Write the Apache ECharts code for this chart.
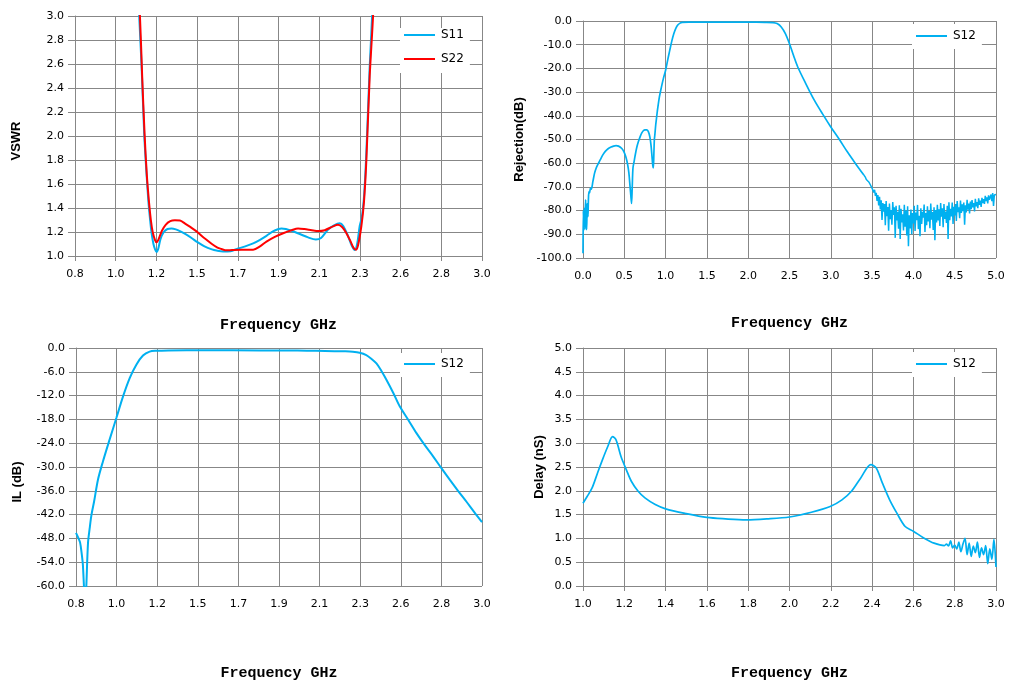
<!DOCTYPE html>
<html>
<head>
<meta charset="utf-8">
<script src="https://cdn.jsdelivr.net/npm/echarts@6/dist/echarts.min.js"></script>
<style>
  html, body { margin: 0; padding: 0; background: #fff; }
  #chart { width: 1032px; height: 691px; }
</style>
</head>
<body>
<div id="chart"></div>
<script>
// VSWR, top left
const s11Freq = [1.130, 1.147, 1.160, 1.174, 1.186, 1.196, 1.206, 1.214, 1.224, 1.234, 1.241, 1.250, 1.262, 1.280, 1.300, 1.322, 1.345, 1.370, 1.400, 1.430, 1.462, 1.500, 1.540, 1.565, 1.600, 1.640, 1.682, 1.720, 1.763, 1.800, 1.835, 1.870, 1.900, 1.916, 1.940, 1.970, 2.015, 2.060, 2.102, 2.130, 2.168, 2.200, 2.231, 2.250, 2.275, 2.295, 2.312, 2.325, 2.339, 2.350, 2.361, 2.370, 2.379, 2.393, 2.406, 2.420]
const s11Vswr = [3.60, 3.00, 2.58, 2.02, 1.70, 1.47, 1.30, 1.19, 1.10, 1.05, 1.033, 1.06, 1.14, 1.20, 1.225, 1.23, 1.222, 1.205, 1.18, 1.15, 1.115, 1.08, 1.055, 1.045, 1.037, 1.04, 1.062, 1.08, 1.105, 1.135, 1.168, 1.205, 1.225, 1.23, 1.225, 1.21, 1.183, 1.155, 1.138, 1.15, 1.22, 1.255, 1.272, 1.25, 1.17, 1.09, 1.05, 1.10, 1.25, 1.32, 1.47, 1.70, 2.02, 2.58, 3.00, 3.60]

const s22Freq = [1.130, 1.151, 1.163, 1.176, 1.188, 1.200, 1.210, 1.220, 1.232, 1.241, 1.252, 1.270, 1.290, 1.315, 1.340, 1.367, 1.395, 1.425, 1.457, 1.490, 1.511, 1.540, 1.570, 1.592, 1.619, 1.650, 1.700, 1.763, 1.800, 1.835, 1.880, 1.925, 1.970, 2.006, 2.040, 2.080, 2.114, 2.150, 2.195, 2.222, 2.245, 2.267, 2.290, 2.305, 2.318, 2.330, 2.348, 2.362, 2.375, 2.393, 2.411, 2.425]
const s22Vswr = [3.60, 3.00, 2.50, 2.02, 1.68, 1.45, 1.30, 1.20, 1.135, 1.114, 1.14, 1.21, 1.26, 1.29, 1.297, 1.295, 1.27, 1.24, 1.205, 1.16, 1.136, 1.10, 1.07, 1.058, 1.047, 1.05, 1.053, 1.053, 1.08, 1.12, 1.16, 1.19, 1.215, 1.23, 1.225, 1.215, 1.208, 1.215, 1.247, 1.26, 1.24, 1.19, 1.12, 1.07, 1.053, 1.09, 1.25, 1.45, 1.80, 2.50, 3.00, 3.60]

// rejection, top right (0 - 5 GHz)
const rejLowFreq = [0.000, 0.004, 0.010, 0.016, 0.022, 0.028, 0.032, 0.038, 0.044, 0.050, 0.056, 0.060, 0.066, 0.072, 0.080, 0.090, 0.100, 0.120, 0.140, 0.160, 0.180, 0.210, 0.240, 0.270, 0.300, 0.340, 0.370, 0.400, 0.430, 0.470, 0.500, 0.520, 0.540, 0.555, 0.570, 0.580, 0.588, 0.596, 0.605, 0.620, 0.630, 0.650, 0.670, 0.690, 0.710, 0.730, 0.750, 0.770, 0.790, 0.810, 0.825, 0.835, 0.845, 0.852, 0.858, 0.864, 0.870, 0.880, 0.890, 0.900, 0.925, 0.950, 0.975, 1.000, 1.025, 1.050, 1.075, 1.100, 1.125, 1.150, 1.175, 1.200, 1.300, 1.500, 1.800, 2.000, 2.200, 2.300, 2.350, 2.400, 2.450, 2.500, 2.550, 2.600, 2.700, 2.800, 2.900, 3.000, 3.100, 3.200, 3.300, 3.400]
const rejLowDb = [-98, -80, -86, -79, -88, -80, -75.5, -85, -88, -78, -77, -82.5, -75, -72, -72.5, -70.5, -71, -67.7, -64.2, -62, -60.5, -58.5, -56.5, -55, -54, -53.2, -52.8, -52.6, -52.8, -53.8, -55.5, -57.5, -60.5, -64, -70, -74, -77, -70, -62, -59, -57, -53.5, -51, -49, -47.3, -46.3, -45.9, -45.9, -46.6, -49, -53, -57, -61, -62, -56, -50, -48, -44, -41, -38, -32, -27.8, -24, -20.8, -16.5, -12.4, -8.5, -5.3, -3, -1.6, -0.9, -0.6, -0.5, -0.45, -0.5, -0.5, -0.55, -0.65, -1.1, -2.5, -5.3, -9.6, -14.7, -19.4, -26.6, -33.4, -39.2, -44.7, -49.8, -55.2, -60.2, -65.0]
const rejHighFreq = [
  3.40, 3.41, 3.42, 3.43, 3.44, 3.45, 3.46, 3.47, 3.48, 3.49,
  3.50, 3.51, 3.52, 3.53, 3.54, 3.55, 3.56, 3.57, 3.58, 3.59,
  3.60, 3.61, 3.62, 3.63, 3.64, 3.65, 3.66, 3.67, 3.68, 3.69,
  3.70, 3.71, 3.72, 3.73, 3.74, 3.75, 3.76, 3.77, 3.78, 3.79,
  3.80, 3.81, 3.82, 3.83, 3.84, 3.85, 3.86, 3.87, 3.88, 3.89,
  3.90, 3.91, 3.92, 3.93, 3.94, 3.95, 3.96, 3.97, 3.98, 3.99,
  4.00, 4.01, 4.02, 4.03, 4.04, 4.05, 4.06, 4.07, 4.08, 4.09,
  4.10, 4.11, 4.12, 4.13, 4.14, 4.15, 4.16, 4.17, 4.18, 4.19,
  4.20, 4.21, 4.22, 4.23, 4.24, 4.25, 4.26, 4.27, 4.28, 4.29,
  4.30, 4.31, 4.32, 4.33, 4.34, 4.35, 4.36, 4.37, 4.38, 4.39,
  4.40, 4.41, 4.42, 4.43, 4.44, 4.45, 4.46, 4.47, 4.48, 4.49,
  4.50, 4.51, 4.52, 4.53, 4.54, 4.55, 4.56, 4.57, 4.58, 4.59,
  4.60, 4.61, 4.62, 4.63, 4.64, 4.65, 4.66, 4.67, 4.68, 4.69,
  4.70, 4.71, 4.72, 4.73, 4.74, 4.75, 4.76, 4.77, 4.78, 4.79,
  4.80, 4.81, 4.82, 4.83, 4.84, 4.85, 4.86, 4.87, 4.88, 4.89,
  4.90, 4.91, 4.92, 4.93, 4.94, 4.95, 4.96, 4.97, 4.98, 4.99, 5.00]
const rejHighDb = [
  -65.0, -65.8, -66.0, -66.9, -66.5, -67.6, -67.9, -68.3, -69.2, -68.8,
  -70.6, -69.8, -72.4, -71.2, -73.8, -72.5, -75.9, -73.4, -77.8, -74.2,
  -79.5, -75.6, -84.0, -76.8, -80.5, -77.2, -86.2, -76.0, -82.4, -78.5,
  -88.5, -77.0, -83.6, -79.8, -86.0, -76.4, -81.8, -78.6, -91.5, -78.0,
  -84.2, -80.5, -87.6, -77.8, -92.0, -79.2, -85.0, -81.6, -88.4, -77.5,
  -86.8, -80.0, -90.5, -78.2, -95.0, -82.0, -87.5, -79.5, -90.0, -81.0,
  -85.4, -78.0, -88.6, -80.8, -84.0, -77.6, -87.8, -82.2, -90.8, -79.0,
  -85.6, -80.5, -83.0, -77.4, -89.0, -81.0, -86.2, -78.2, -84.6, -80.2,
  -87.4, -77.0, -83.8, -80.6, -88.2, -78.6, -92.5, -79.8, -85.0, -77.5,
  -84.2, -79.4, -86.5, -76.8, -82.6, -79.0, -87.0, -77.2, -83.5, -80.4,
  -85.2, -78.0, -92.0, -76.5, -84.0, -79.2, -82.5, -76.6, -85.6, -78.4,
  -82.0, -77.2, -84.4, -76.0, -80.6, -78.6, -83.2, -75.8, -81.0, -77.4,
  -80.2, -76.6, -86.0, -77.8, -80.8, -75.4, -79.6, -77.0, -81.2, -76.2,
  -79.4, -75.6, -78.6, -76.8, -80.4, -75.0, -78.2, -76.4, -79.0, -74.8,
  -77.6, -75.8, -78.4, -74.6, -76.8, -75.2, -77.2, -73.8, -76.0, -74.4,
  -77.0, -73.6, -75.4, -74.8, -73.2, -76.0, -72.6, -78.0, -73.4, -72.8, -73.2]

// insertion loss, bottom left
const ilFreq = [0.800, 0.812, 0.822, 0.830, 0.837, 0.843, 0.850, 0.856, 0.865, 0.874, 0.883, 0.898, 0.919, 0.946, 0.982, 1.019, 1.055, 1.091, 1.127, 1.163, 1.199, 1.235, 1.300, 1.500, 1.800, 2.000, 2.100, 2.200, 2.260, 2.300, 2.337, 2.373, 2.400, 2.428, 2.455, 2.482, 2.520, 2.554, 2.600, 2.644, 2.690, 2.735, 2.780, 2.825, 2.870, 2.915, 2.960, 3.000]
const ilDb = [-46.6, -47.8, -49.0, -51.5, -54.5, -60, -66, -60, -49.2, -45.5, -42.3, -38.7, -33.2, -28.6, -23.1, -17.6, -12.2, -7.6, -4.2, -1.9, -0.9, -0.7, -0.6, -0.55, -0.6, -0.65, -0.7, -0.8, -0.85, -0.95, -1.2, -1.8, -2.7, -3.9, -5.8, -8.0, -11.4, -14.7, -18.1, -21.4, -24.5, -27.3, -30.3, -33.2, -36.0, -38.7, -41.5, -43.9]

// group delay, bottom right
const delayFreq = [1.000, 1.020, 1.044, 1.070, 1.094, 1.120, 1.143, 1.160, 1.184, 1.210, 1.234, 1.267, 1.300, 1.350, 1.400, 1.500, 1.600, 1.690, 1.790, 1.890, 2.000, 2.106, 2.197, 2.254, 2.300, 2.345, 2.394, 2.420, 2.450, 2.485, 2.520, 2.560, 2.600, 2.650, 2.700, 2.750, 2.760, 2.770, 2.780, 2.790, 2.800, 2.810, 2.820, 2.830, 2.840, 2.850, 2.860, 2.870, 2.880, 2.890, 2.900, 2.910, 2.920, 2.930, 2.940, 2.950, 2.960, 2.970, 2.980, 2.990, 3.000]
const delayNs = [1.74, 1.88, 2.06, 2.37, 2.65, 2.93, 3.14, 3.07, 2.72, 2.44, 2.20, 1.99, 1.85, 1.71, 1.62, 1.52, 1.44, 1.41, 1.39, 1.41, 1.45, 1.55, 1.67, 1.81, 1.99, 2.27, 2.55, 2.48, 2.16, 1.81, 1.53, 1.25, 1.15, 1.01, 0.90, 0.85, 0.88, 0.84, 0.95, 0.80, 0.86, 0.78, 0.92, 0.72, 0.88, 1.00, 0.66, 0.90, 0.62, 0.84, 0.70, 0.92, 0.60, 0.80, 0.66, 0.85, 0.47, 0.78, 0.56, 0.98, 0.40]

const BLUE = '#00b0f0'
const RED = '#ff0000'
const GRID_GREY = '#878787'

const pairs = (xs, ys) => xs.map((x, i) => [x, ys[i]])

function xAxisOf(gridIndex, min, max, interval, nameGap) {
  return {
    type: 'value', gridIndex, min, max, interval,
    name: 'Frequency GHz',
    nameLocation: 'middle',
    nameGap,
    nameTextStyle: { fontFamily: 'Liberation Mono', fontWeight: 'bold', fontSize: 15, color: '#000' },
    axisLine: { lineStyle: { color: GRID_GREY } },
    axisTick: { show: true, length: 5, lineStyle: { color: GRID_GREY } },
    axisLabel: {
      margin: 13, color: '#000', fontFamily: 'DejaVu Sans', fontSize: 11,
      formatter: v => v.toFixed(1)
    },
    splitLine: { show: true, lineStyle: { color: GRID_GREY } }
  }
}

// shift moves the rotated name down the axis (px)
function yAxisOf(gridIndex, min, max, interval, name, nameGap, shift) {
  return {
    type: 'value', gridIndex, min, max, interval,
    name,
    nameLocation: 'middle',
    nameGap,
    nameTextStyle: {
      fontFamily: 'Liberation Sans', fontWeight: 'bold', fontSize: 13, color: '#000',
      padding: [0, shift * 2, 0, 0]
    },
    axisLine: { show: true, lineStyle: { color: GRID_GREY } },
    axisTick: { show: true, length: 7, lineStyle: { color: GRID_GREY } },
    axisLabel: {
      margin: 11, color: '#000', fontFamily: 'DejaVu Sans', fontSize: 11,
      formatter: v => v.toFixed(1)
    },
    splitLine: { show: true, lineStyle: { color: GRID_GREY } }
  }
}

function legendOf(names, left, top, padding) {
  return {
    data: names, left, top, orient: 'vertical',
    padding, itemGap: 10, itemWidth: 31, itemHeight: 2,
    icon: 'rect', selectedMode: false,
    backgroundColor: '#fff',
    textStyle: { fontFamily: 'DejaVu Sans', fontSize: 12, color: '#000', lineHeight: 14, padding: [0, 0, 0, 1] }
  }
}

function lineOf(name, xIdx, data, color, width, smooth) {
  return {
    name, type: 'line', xAxisIndex: xIdx, yAxisIndex: xIdx,
    data, symbol: 'none', showSymbol: false,
    smooth,
    itemStyle: { color },
    lineStyle: { color, width },
    clip: true
  }
}

const myChart = echarts.init(document.getElementById('chart'), null, { renderer: 'canvas' })

const option = {
  animation: false,
  backgroundColor: '#fff',
  grid: [
    { left: 75, top: 16, width: 407, height: 240 },
    { left: 583, top: 21, width: 413, height: 237 },
    { left: 76, top: 348, width: 406, height: 238 },
    { left: 583, top: 348, width: 413, height: 238 }
  ],
  xAxis: [
    xAxisOf(0, 0.8, 3.0, 0.22, 62),
    xAxisOf(1, 0, 5, 0.5, 58),
    xAxisOf(2, 0.8, 3.0, 0.22, 80),
    xAxisOf(3, 1.0, 3.0, 0.2, 80)
  ],
  yAxis: [
    yAxisOf(0, 1.0, 3.0, 0.2, 'VSWR', 52, 5),
    yAxisOf(1, -100, 0, 10, 'Rejection(dB)', 57, 0),
    yAxisOf(2, -60, 0, 6, 'IL (dB)', 52, 15),
    yAxisOf(3, 0, 5, 0.5, 'Delay (nS)', 37, 0)
  ],
  legend: [
    legendOf(['S11', 'S22'], 400, 28, [0, 6, 7, 4]),
    legendOf(['S12'], 912, 24, [5, 6, 6, 4]),
    legendOf(['S12'], 400, 353, [4, 6, 6, 4]),
    legendOf(['S12'], 912, 352, [5, 6, 6, 4])
  ],
  series: [
    lineOf('S11', 0, pairs(s11Freq, s11Vswr), BLUE, 2, 0.3),
    lineOf('S22', 0, pairs(s22Freq, s22Vswr), RED, 2, 0.3),
    lineOf('S12', 1, pairs(rejLowFreq, rejLowDb), BLUE, 1.7, 0.3),
    lineOf('S12', 1, pairs(rejHighFreq, rejHighDb), BLUE, 1.5, false),
    lineOf('S12', 2, pairs(ilFreq, ilDb), BLUE, 2, 0.3),
    lineOf('S12', 3, pairs(delayFreq, delayNs), BLUE, 1.7, 0.3)
  ]
}

myChart.setOption(option)
window.addEventListener('resize', () => {
  myChart && myChart.resize()
})
</script>
</body>
</html>
